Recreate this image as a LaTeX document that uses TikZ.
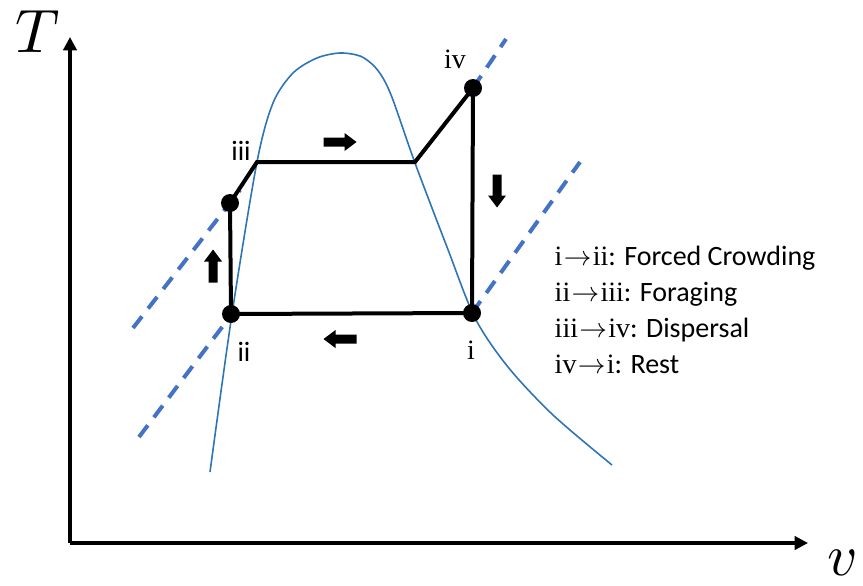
\documentclass[tikz,border=0pt]{standalone}
\usepackage{fontspec}
\setmainfont{Carlito}
\newfontfamily\numfont{Liberation Serif}
\usetikzlibrary{arrows.meta}
\definecolor{domeblue}{HTML}{2E75B6}
\definecolor{dashblue}{HTML}{4472C4}
\newcommand{\numarr}{\kern1pt$\rightarrow$\kern1pt}
\tikzset{
  cyc/.style={line width=3pt, line join=miter},
  satcurve/.style={draw=domeblue, line width=1.2pt},
  isoline/.style={draw=dashblue, line width=3pt, dash pattern=on 11pt off 7.5pt},
  state/.style={circle, fill=black, inner sep=0pt, minimum size=13.5pt},
  axis/.style={line width=2.4pt, -{Triangle[length=10pt,width=10pt]}},
  numlbl/.style={font=\numfont\fontsize{21}{21}\selectfont},
  sanslbl/.style={font=\fontsize{21}{21}\selectfont},
  flowarrow/.pic={\fill (-16.5,-4.5) -- (4.5,-4.5) -- (4.5,-9) -- (16.5,0)
    -- (4.5,9) -- (4.5,4.5) -- (-16.5,4.5) -- cycle;}
}
\begin{document}
\begin{tikzpicture}[x=0.75pt, y=-0.75pt, line cap=butt]
\useasboundingbox (0,0) rectangle (863,585);
% axes
\coordinate (orig) at (70,543);
\coordinate (ytop) at (70,37);
\coordinate (xend) at (808,543);
\draw[axis] (orig) -- (ytop);
\draw[axis] (orig) -- (xend);
\node (tlab) at (38,32) {\scalebox{4.6}{$T$}};
\node (vlab) at (843,563) {\scalebox{4.4}{$v$}};
% saturation dome
\draw[satcurve] plot[smooth, tension=0.5] coordinates {
  (210,472) (232,314) (257,162) (273,103) (293,73) (317,58) (340,53)
  (360,56) (373,65) (383,78) (393,100) (415,163) (447,247) (475,318)
  (508,367) (553,415) (612,465)};
% dashed lines through the states
\coordinate (da1) at (133,328);
\coordinate (da2) at (240,190);
\coordinate (db1) at (139,437);
\coordinate (db2) at (232,314);
\coordinate (dc1) at (473,88);
\coordinate (dc2) at (506,39);
\coordinate (dd1) at (472,313);
\coordinate (dd2) at (580,162);
\draw[isoline] (da1) -- (da2);
\draw[isoline] (db1) -- (db2);
\draw[isoline] (dc1) -- (dc2);
\draw[isoline] (dd1) -- (dd2);
% states and cycle
\node[state] (si) at (472,313) {};
\node[state] (sii) at (231,314) {};
\node[state] (sx) at (230,203) {};
\node[state] (siv) at (473,88) {};
\coordinate (ciii) at (257,162);
\coordinate (cdew) at (415,162);
\draw[cyc] (si.center) -- (sii.center) -- (sx.center) -- (ciii) -- (cdew)
  -- (siv.center) -- cycle;
% state labels
\node[numlbl] (li) at (471,350) {i};
\node[sanslbl] (lii) at (244,352) {ii};
\node[sanslbl] (liii) at (241,151) {iii};
\node[numlbl] (liv) at (455,59) {iv};
% direction arrows
\pic at (340,142) {flowarrow};
\pic[rotate=180] at (340,339) {flowarrow};
\pic[rotate=90] at (213,266) {flowarrow};
\pic[rotate=-90] at (497,191) {flowarrow};
% legend
\node[anchor=west, align=left, font=\fontsize{21}{27}\selectfont] (legend) at (550,310)
  {{\numfont i\numarr ii}: Forced Crowding\\
   {\numfont ii\numarr iii}: Foraging\\
   {\numfont iii\numarr iv}: Dispersal\\
   {\numfont iv\numarr i}: Rest};
\end{tikzpicture}
\end{document}
